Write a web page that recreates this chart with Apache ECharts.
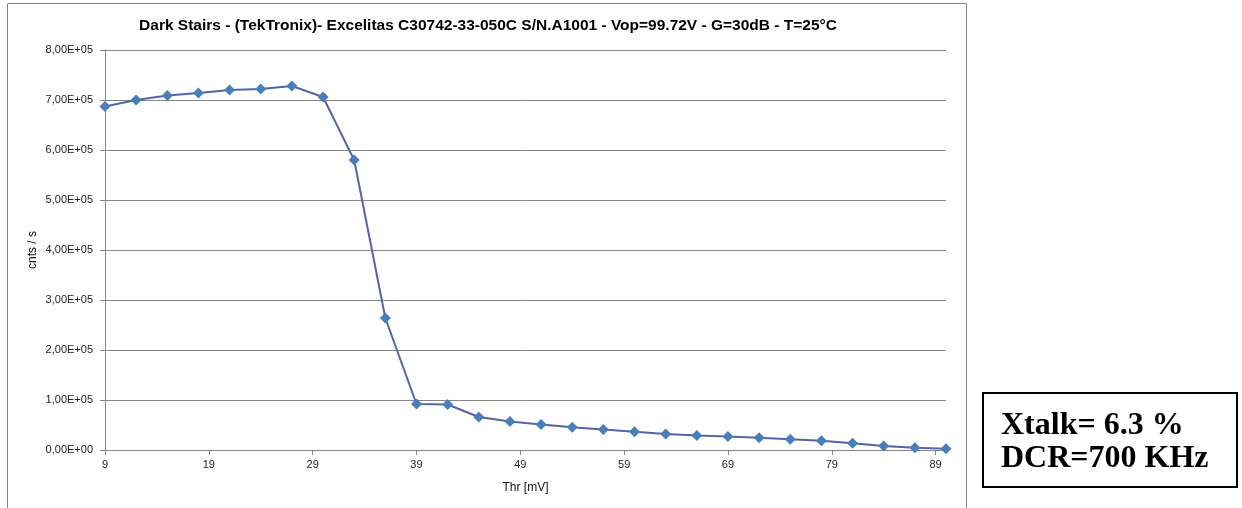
<!DOCTYPE html>
<html>
<head>
<meta charset="utf-8">
<script src="https://cdn.jsdelivr.net/npm/echarts@6/dist/echarts.min.js"></script>
<style>
html,body{margin:0;padding:0;background:#fff;}
#c{width:1242px;height:508px;}
</style>
</head>
<body>
<div id="c"></div>
<script>
// Data
const thr = [9,12,15,18,21,24,27,30,33,36,39,42,45,48,51,54,57,60,63,66,69,72,75,78,81,84,87,90];
const counts = [687000,700000,709000,714000,720000,722000,728000,706000,580000,264000,92000,91000,66000,57000,51000,45500,41000,36500,32000,29000,27000,24500,21500,18500,13500,8000,4500,2500];
const titleText = 'Dark Stairs - (TekTronix)- Excelitas C30742-33-050C S/N.A1001 - Vop=99.72V - G=30dB - T=25°C';
const xName = 'Thr [mV]';
const yName = 'cnts / s';
const noteLines = ['Xtalk= 6.3 %', 'DCR=700 KHz'];

const points = thr.map((x, i) => [x, counts[i]]);

function sci(v) {
  const s = v.toExponential(2); // e.g. 8.00e+5
  const m = s.split('e');
  const mant = m[0].replace('.', ',');
  const exp = parseInt(m[1], 10);
  const sign = exp < 0 ? '-' : '+';
  const e = String(Math.abs(exp)).padStart(2, '0');
  return mant + 'E' + sign + e;
}

const chart = echarts.init(document.getElementById('c'), null, {renderer: 'canvas'});
chart.setOption({
  animation: false,
  backgroundColor: '#fff',
  title: {
    text: titleText,
    left: 483,
    top: 13,
    textAlign: 'center',
    textStyle: {fontFamily: 'Liberation Sans', fontWeight: 'bold', fontSize: 15.5, color: '#000'}
  },
  grid: {left: 105, right: 1242 - 946, top: 50, bottom: 508 - 450, containLabel: false},
  xAxis: {
    type: 'value',
    min: 9, max: 90, interval: 10,
    name: xName, nameLocation: 'middle', nameGap: 32,
    nameTextStyle: {fontFamily: 'Liberation Sans', fontSize: 12, color: '#111'},
    axisLine: {show: true, onZero: false, lineStyle: {color: '#868686', width: 1}},
    axisTick: {show: true, length: 5, lineStyle: {color: '#868686'}},
    axisLabel: {showMaxLabel: false, margin: 9, fontFamily: 'Liberation Sans', fontSize: 11, color: '#222'},
    splitLine: {show: false}
  },
  yAxis: {
    type: 'value',
    min: 0, max: 800000, interval: 100000,
    name: yName, nameLocation: 'middle', nameGap: 66, nameRotate: 90,
    nameMoveOverlap: false,
    nameTextStyle: {fontFamily: 'Liberation Sans', fontSize: 12, color: '#111'},
    axisLine: {show: true, lineStyle: {color: '#868686', width: 1}},
    axisTick: {show: true, length: 5, lineStyle: {color: '#868686'}},
    axisLabel: {formatter: sci, margin: 12, fontFamily: 'Liberation Sans', fontSize: 11, color: '#222'},
    splitLine: {show: true, lineStyle: {color: '#868686', width: 1}}
  },
  series: [{
    type: 'line',
    data: points,
    symbol: 'diamond',
    symbolSize: 11,
    showAllSymbol: true,
    lineStyle: {color: '#5862a6', width: 2},
    itemStyle: {color: '#4a7ebb'},
    z: 3
  }],
  graphic: [
    {type: 'rect', shape: {x: 7.5, y: 3.5, width: 959, height: 520}, style: {fill: 'none', stroke: '#868686', lineWidth: 1}, silent: true},
    {type: 'rect', shape: {x: 983, y: 393, width: 254, height: 94}, style: {fill: '#fff', stroke: '#000', lineWidth: 2}, silent: true},
    {type: 'text', x: 1001, y: 426, style: {text: noteLines[0], font: 'bold 32px "Liberation Serif"', fill: '#000', verticalAlign: 'middle', align: 'left'}},
    {type: 'text', x: 1001, y: 459, style: {text: noteLines[1], font: 'bold 32px "Liberation Serif"', fill: '#000', verticalAlign: 'middle', align: 'left'}}
  ]
});
</script>
</body>
</html>
